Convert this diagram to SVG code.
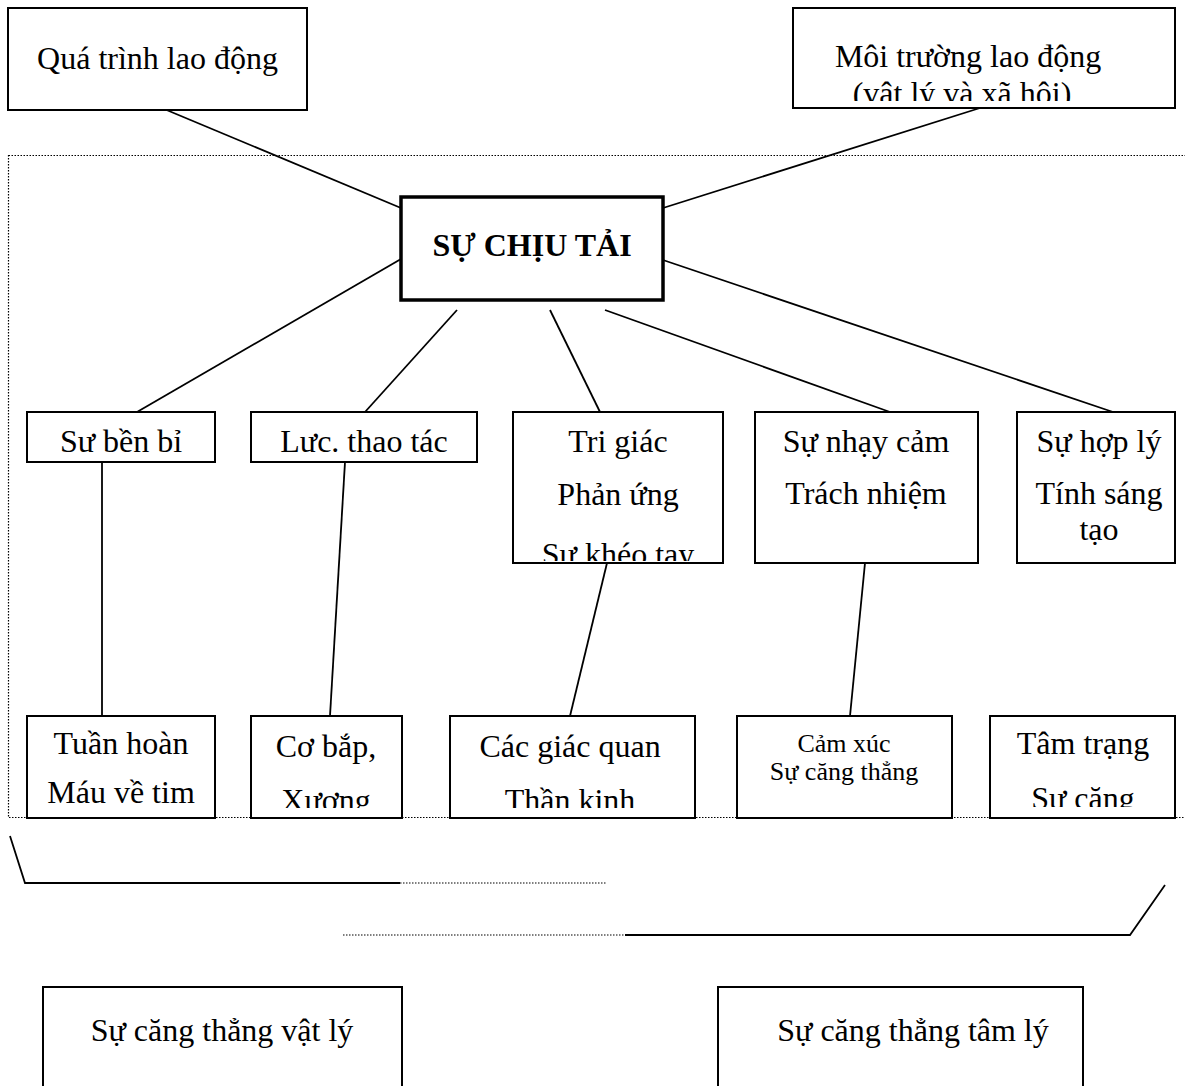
<svg xmlns="http://www.w3.org/2000/svg" width="1185" height="1086" viewBox="0 0 1185 1086">
<style>
.box{fill:#fff;stroke:#000;stroke-width:2}
.thick{fill:#fff;stroke:#000;stroke-width:3.5}
.t{font-family:"Liberation Serif","Times New Roman",serif;font-size:32px;fill:#000;text-anchor:middle}
.s{font-size:26px}
.b{font-weight:bold}
.ln{stroke:#000;stroke-width:1.8;fill:none}
.dot{stroke:#000;stroke-width:1.2;stroke-dasharray:1.5 1.5;fill:none}
</style>
<defs>
<clipPath id="cB"><rect x="793" y="8" width="382" height="93"/></clipPath>
<clipPath id="cTri"><rect x="513" y="412" width="210" height="149"/></clipPath>
<clipPath id="cCo"><rect x="251" y="716" width="151" height="92"/></clipPath>
<clipPath id="cCac"><rect x="450" y="716" width="245" height="92"/></clipPath>
<clipPath id="cTam"><rect x="990" y="716" width="185" height="91"/></clipPath>
<clipPath id="cTuan"><rect x="27" y="716" width="188" height="101"/></clipPath>
</defs>
<rect x="0" y="0" width="1185" height="1086" fill="#fff"/>
<rect class="dot" x="8.5" y="155.5" width="1200" height="662"/>
<g id="connectors">
<line class="ln" x1="157" y1="106" x2="401" y2="208"/>
<line class="ln" x1="980" y1="108" x2="663" y2="208"/>
<line class="ln" x1="401" y1="259" x2="137" y2="412"/>
<line class="ln" x1="457" y1="310" x2="365" y2="412"/>
<line class="ln" x1="550" y1="310" x2="600" y2="412"/>
<line class="ln" x1="605" y1="310" x2="890" y2="412"/>
<line class="ln" x1="663" y1="260" x2="1113" y2="412"/>
<line class="ln" x1="102" y1="462" x2="102" y2="716"/>
<line class="ln" x1="345" y1="462" x2="330" y2="716"/>
<line class="ln" x1="607" y1="563" x2="570" y2="716"/>
<line class="ln" x1="865" y1="563" x2="850" y2="716"/>
<polyline class="ln" points="10,836 25,883 400,883"/>
<line class="dot" x1="400" y1="883" x2="607" y2="883"/>
<line class="dot" x1="343" y1="935" x2="625" y2="935"/>
<polyline class="ln" points="625,935 1130,935 1165,885"/>
</g>
<g id="n-qua-trinh"><rect class="box" x="8" y="8" width="299" height="102"/><text class="t" x="157.5" y="69">Quá trình lao động</text></g>
<g id="n-moi-truong"><rect class="box" x="793" y="8" width="382" height="100"/><g clip-path="url(#cB)"><text class="t" x="968" y="67">Môi trường lao động</text><text class="t" x="962" y="104">(vât lý và xã hôi)</text></g></g>
<g id="n-chiu-tai"><rect class="thick" x="401" y="197" width="262" height="103"/><text class="t b" x="532" y="256">SỰ CHỊU TẢI</text></g>
<g id="n-ben-bi"><rect class="box" x="27" y="412" width="188" height="50"/><text class="t" x="121" y="452">Sư bền bỉ</text></g>
<g id="n-luc"><rect class="box" x="251" y="412" width="226" height="50"/><text class="t" x="364" y="452">Lưc. thao tác</text></g>
<g id="n-tri-giac"><rect class="box" x="513" y="412" width="210" height="151"/><g clip-path="url(#cTri)"><text class="t" x="618" y="452">Tri giác</text><text class="t" x="618" y="505">Phản ứng</text><text class="t" x="618" y="565">Sư khéo tay</text></g></g>
<g id="n-nhay-cam"><rect class="box" x="755" y="412" width="223" height="151"/><text class="t" x="866" y="452">Sự nhạy cảm</text><text class="t" x="866" y="504">Trách nhiệm</text></g>
<g id="n-hop-ly"><rect class="box" x="1017" y="412" width="158" height="151"/><text class="t" x="1099" y="452">Sự hợp lý</text><text class="t" x="1099" y="504">Tính sáng</text><text class="t" x="1099" y="540">tạo</text></g>
<g id="n-tuan-hoan"><rect class="box" x="27" y="716" width="188" height="102"/><g clip-path="url(#cTuan)"><text class="t" x="121" y="754">Tuần hoàn</text><text class="t" x="121" y="803">Máu về tim</text></g></g>
<g id="n-co-bap"><rect class="box" x="251" y="716" width="151" height="102"/><g clip-path="url(#cCo)"><text class="t" x="326" y="757">Cơ bắp,</text><text class="t" x="326" y="811">Xương</text></g></g>
<g id="n-giac-quan"><rect class="box" x="450" y="716" width="245" height="102"/><g clip-path="url(#cCac)"><text class="t" x="570" y="757">Các giác quan</text><text class="t" x="570" y="811">Thần kinh</text></g></g>
<g id="n-cam-xuc"><rect class="box" x="737" y="716" width="215" height="102"/><text class="t s" x="844" y="752">Cảm xúc</text><text class="t s" x="844" y="780">Sự căng thẳng</text></g>
<g id="n-tam-trang"><rect class="box" x="990" y="716" width="185" height="102"/><g clip-path="url(#cTam)"><text class="t" x="1083" y="754">Tâm trạng</text><text class="t" x="1083" y="809">Sự căng</text></g></g>
<g id="n-vat-ly"><rect class="box" x="43" y="987" width="359" height="110"/><line class="ln" x1="43" y1="987" x2="402" y2="987" stroke-width="3"/><text class="t" x="222" y="1041">Sự căng thẳng vật lý</text></g>
<g id="n-tam-ly"><rect class="box" x="718" y="987" width="365" height="110"/><line class="ln" x1="718" y1="987" x2="1083" y2="987" stroke-width="3"/><text class="t" x="913" y="1041">Sự căng thẳng tâm lý</text></g>
</svg>
